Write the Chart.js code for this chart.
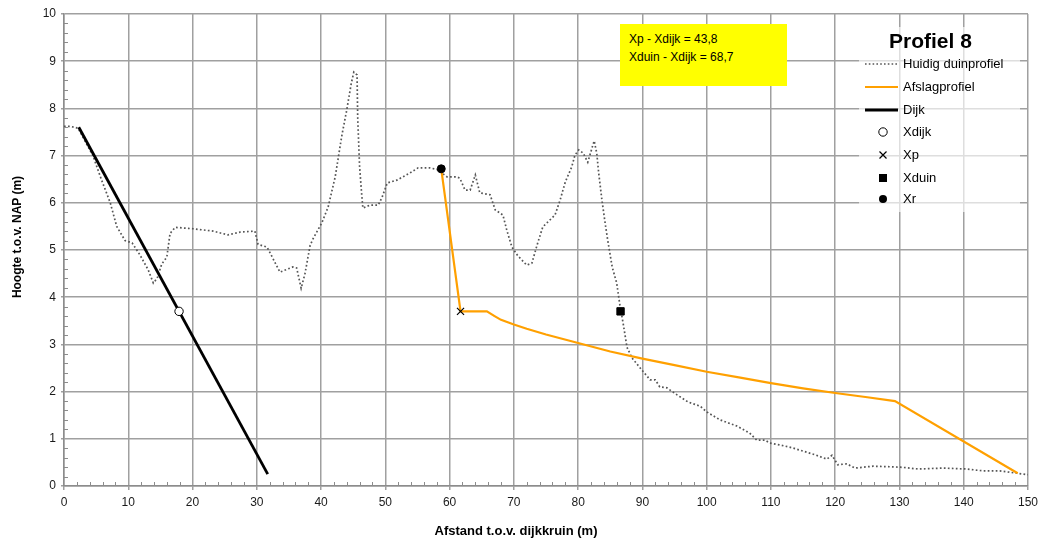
<!DOCTYPE html>
<html><head><meta charset="utf-8">
<script src="https://cdn.jsdelivr.net/npm/chart.js@4.4.1/dist/chart.umd.min.js"></script>
<style>
html,body{margin:0;padding:0;background:#fff;}
#wrap{position:relative;width:1048px;height:543px;overflow:hidden;font-family:"Liberation Sans",Arial,sans-serif;}
#c{position:absolute;left:0;top:0;}
#note{position:absolute;left:620px;top:24px;width:167px;height:62px;background:#ffff00;font-size:12px;color:#000;box-sizing:border-box;padding:6px 0 0 9px;line-height:18px;}
#legend{position:absolute;left:859px;top:27px;width:161px;height:185px;background:rgba(255,255,255,0.65);}
#legTitle{position:absolute;left:30px;top:2px;font-weight:bold;font-size:21px;line-height:24px;color:#000;}
.row{position:absolute;left:0;height:20px;width:161px;}
.row svg{position:absolute;left:4px;top:0;}
.row span{position:absolute;left:44px;top:2px;font-size:13px;line-height:16px;color:#000;white-space:nowrap;}
#xTitle{position:absolute;left:0;width:1032px;top:523px;text-align:center;font-weight:bold;font-size:13px;line-height:16px;color:#000;}
#yTitle{position:absolute;left:-83.5px;top:230px;width:200px;height:14px;line-height:14px;text-align:center;font-weight:bold;font-size:12px;color:#000;transform:rotate(-90deg);}
</style></head>
<body>
<div id="wrap">
<canvas id="c" width="1048" height="543"></canvas>
<div id="note"></div>
<div id="legend"><div id="legTitle"></div></div>
<div id="xTitle"></div>
<div id="yTitle"></div>
</div>
<script>
// ---- data ----
const chartTitle = "Profiel 8";
const xAxisTitle = "Afstand t.o.v. dijkkruin (m)";
const yAxisTitle = "Hoogte t.o.v. NAP (m)";
const noteLines = ["Xp - Xdijk = 43,8", "Xduin - Xdijk = 68,7"];
const xTicks = [0,10,20,30,40,50,60,70,80,90,100,110,120,130,140,150];
const yTicks = [0,1,2,3,4,5,6,7,8,9,10];

const duneX = [0,1,2.2,3.3,4.5,5.8,7.2,8.2,9.5,10.6,11.8,13.1,13.9,14.5,15.2,16.0,16.5,17.3,20.1,23.2,25.5,27.4,29.7,30.2,31.6,32.4,33.6,35.6,36.2,36.9,37.5,38.3,38.8,40.1,41.1,42.2,43.2,44.0,44.7,45.1,45.6,45.7,46.0,46.3,46.5,47.6,48.9,49.5,50.3,51.8,53.8,55.1,56.9,58.0,59.6,61.1,61.6,62.4,63.2,64.0,64.7,66.3,67.1,68.3,68.9,69.7,70.6,72.0,72.8,73.6,74.5,76.4,77.2,78.0,79.0,79.5,80.1,80.8,81.5,82.2,82.5,82.9,83.2,83.7,84.2,84.6,85.3,86.0,86.5,87.0,87.6,88.4,89.9,91.2,92.0,92.7,93.8,95.4,97.1,99.0,100.0,102.1,104.7,106.7,107.8,109.1,109.8,111.4,113.3,114.5,116.9,118.7,119.5,120.4,121.8,123.1,125.9,130.1,132.9,136.8,140.5,143.0,145.6,148.3,150];
const duneY = [7.62,7.62,7.58,7.3,7.0,6.5,6.0,5.5,5.2,5.15,4.9,4.58,4.3,4.4,4.7,4.85,5.35,5.48,5.45,5.4,5.32,5.38,5.4,5.12,5.06,4.85,4.53,4.64,4.62,4.19,4.5,5.1,5.25,5.57,5.91,6.55,7.4,7.97,8.53,8.77,8.71,7.82,6.76,6.21,5.89,5.95,5.95,6.12,6.42,6.48,6.63,6.74,6.74,6.71,6.55,6.55,6.52,6.27,6.27,6.59,6.21,6.17,5.85,5.74,5.42,5.06,4.88,4.68,4.72,5.1,5.49,5.74,6.06,6.44,6.76,7.01,7.12,7.05,6.86,7.18,7.31,7.05,6.63,6.06,5.57,5.21,4.64,4.3,3.83,3.45,2.94,2.71,2.46,2.25,2.25,2.10,2.08,1.93,1.78,1.69,1.57,1.40,1.27,1.12,0.97,0.97,0.91,0.87,0.81,0.76,0.66,0.57,0.65,0.45,0.47,0.38,0.42,0.40,0.36,0.38,0.36,0.32,0.32,0.27,0.24];

const afslagX = [58.7,61.7,65.8,67.0,68.0,70,72,75,80,85,90,95,100,105,110,115,120,125,129.3,148.4];
const afslagY = [6.72,3.7,3.7,3.6,3.52,3.42,3.33,3.21,3.03,2.85,2.70,2.56,2.42,2.30,2.18,2.07,1.97,1.88,1.80,0.27];

const dijkX = [2.3,31.7];
const dijkY = [7.6,0.25];

const xdijk = [17.9,3.7];
const xp = [61.7,3.7];
const xduin = [86.6,3.7];
const xr = [58.7,6.72];

const zip = (a,b)=>a.map((v,i)=>({x:v,y:b[i]}));

const datasets = [
  {label:"Huidig duinprofiel", data:zip(duneX,duneY), borderColor:"#555555", borderWidth:1.7, borderDash:[1.7,2.3], pointRadius:0, showLine:true, order:5, legendType:"dots"},
  {label:"Afslagprofiel", data:zip(afslagX,afslagY), borderColor:"#ffa000", borderWidth:2.2, pointRadius:0, showLine:true, order:4, legendType:"line"},
  {label:"Dijk", data:zip(dijkX,dijkY), borderColor:"#000000", borderWidth:2.8, pointRadius:0, showLine:true, order:3, legendType:"line"},
  {label:"Xdijk", data:[{x:xdijk[0],y:xdijk[1]}], pointStyle:"circle", pointRadius:4.2, backgroundColor:"#ffffff", borderColor:"#000", borderWidth:1, showLine:false, order:1, legendType:"circleOpen"},
  {label:"Xp", data:[{x:xp[0],y:xp[1]}], pointStyle:"crossRot", pointRadius:5, borderColor:"#000", borderWidth:1.2, showLine:false, order:1, legendType:"cross"},
  {label:"Xduin", data:[{x:xduin[0],y:xduin[1]}], pointStyle:"rect", pointRadius:5.2, backgroundColor:"#000", borderColor:"#000", borderWidth:1, showLine:false, order:1, legendType:"square"},
  {label:"Xr", data:[{x:xr[0],y:xr[1]}], pointStyle:"circle", pointRadius:4, backgroundColor:"#000", borderColor:"#000", borderWidth:1, showLine:false, order:1, legendType:"circleFilled"}
];

const minorTicks = {
  id:'minorTicks',
  afterDatasetsDraw(chart){
    const {ctx, scales:{x,y}} = chart;
    ctx.save(); ctx.strokeStyle='#8c8c8c'; ctx.lineWidth=1;
    ctx.beginPath();
    for (let v=0; v<=150; v+=2){ if(v%10===0) continue; const px=Math.round(x.getPixelForValue(v))+0.5; ctx.moveTo(px, y.bottom); ctx.lineTo(px, y.bottom-4);}
    for (let i=0;i<=50;i++){ if(i%5===0) continue; const py=Math.round(y.getPixelForValue(i/5))+0.5; ctx.moveTo(x.left, py); ctx.lineTo(x.left+4, py);}
    ctx.stroke(); ctx.restore();
  }
};

const tickFont = {family:"'Liberation Sans', Arial, sans-serif", size:12};
new Chart(document.getElementById('c'), {
  type:'scatter',
  data:{datasets},
  options:{
    responsive:false, animation:false, devicePixelRatio:1,
    layout:{padding:{left:0,right:20,top:14,bottom:0}},
    plugins:{legend:{display:false}, tooltip:{enabled:false}},
    scales:{
      x:{type:'linear', min:0, max:150,
         afterBuildTicks:(s)=>{s.ticks = xTicks.map(v=>({value:v}));},
         afterFit:(s)=>{s.height=57;},
         ticks:{font:tickFont, color:'#1a1a1a', padding:5, maxRotation:0, autoSkip:false},
         grid:{color:'#a0a0a0', lineWidth:1.5, tickLength:4, tickColor:'#a0a0a0'},
         border:{color:'#8c8c8c', width:1.5}},
      y:{type:'linear', min:0, max:10,
         afterBuildTicks:(s)=>{s.ticks = yTicks.map(v=>({value:v}));},
         afterFit:(s)=>{s.width=64;},
         ticks:{font:tickFont, color:'#1a1a1a', padding:5, autoSkip:false},
         grid:{color:'#a0a0a0', lineWidth:1.5, tickLength:3, tickColor:'#a0a0a0'},
         border:{color:'#8c8c8c', width:1.5}}
    }
  },
  plugins:[minorTicks]
});

// ---- texts / legend ----
document.getElementById('note').innerHTML = noteLines.map(t=>'<div>'+t+'</div>').join('');
document.getElementById('xTitle').textContent = xAxisTitle;
document.getElementById('yTitle').textContent = yAxisTitle;
const leg = document.getElementById('legend');
document.getElementById('legTitle').textContent = chartTitle;
const rowTops = [27,50,73,95,118,141,162];
function sample(ds){
  const t = ds.legendType;
  if (t==='dots') return '<line x1="2" y1="10" x2="35" y2="10" stroke="'+ds.borderColor+'" stroke-width="1.4" stroke-dasharray="1.6 2.2"/>';
  if (t==='line') return '<line x1="2" y1="10" x2="35" y2="10" stroke="'+ds.borderColor+'" stroke-width="'+ds.borderWidth+'"/>';
  if (t==='circleOpen') return '<circle cx="20" cy="10" r="4.2" fill="#fff" stroke="#000" stroke-width="1"/>';
  if (t==='cross') return '<path d="M16.5 6.5 L23.5 13.5 M23.5 6.5 L16.5 13.5" stroke="#000" stroke-width="1.2"/>';
  if (t==='square') return '<rect x="16" y="6" width="8" height="8" fill="#000"/>';
  return '<circle cx="20" cy="10" r="4" fill="#000"/>';
}
datasets.forEach((ds,i)=>{
  const r = document.createElement('div');
  r.className='row'; r.style.top = rowTops[i]+'px';
  r.innerHTML = '<svg width="40" height="20">'+sample(ds)+'</svg><span>'+ds.label+'</span>';
  leg.appendChild(r);
});
</script>
</body></html>
